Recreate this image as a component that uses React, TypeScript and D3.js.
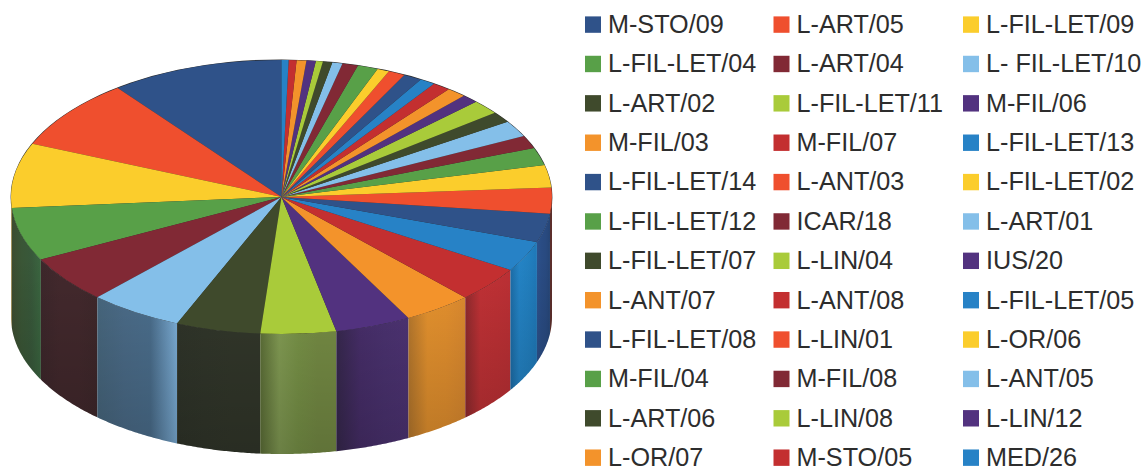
import React from "react";
import * as d3 from "d3";

// Share of each sector, in percent, in legend order.
const sectors = [
  "M-STO/09", "L-ART/05", "L-FIL-LET/09",
  "L-FIL-LET/04", "L-ART/04", "L- FIL-LET/10",
  "L-ART/02", "L-FIL-LET/11", "M-FIL/06",
  "M-FIL/03", "M-FIL/07", "L-FIL-LET/13",
  "L-FIL-LET/14", "L-ANT/03", "L-FIL-LET/02",
  "L-FIL-LET/12", "ICAR/18", "L-ART/01",
  "L-FIL-LET/07", "L-LIN/04", "IUS/20",
  "L-ANT/07", "L-ANT/08", "L-FIL-LET/05",
  "L-FIL-LET/08", "L-LIN/01", "L-OR/06",
  "M-FIL/04", "M-FIL/08", "L-ANT/05",
  "L-ART/06", "L-LIN/08", "L-LIN/12",
  "L-OR/07", "M-STO/05", "MED/26",
];
const shares = [
  10.36, 8.28, 7.64, 6.28, 5.53, 5.61, 5.06, 4.5, 4.53, 4.11, 4.17, 3.61,
  3.39, 3.06, 2.64, 2.08, 1.5, 1.92, 1.28, 1.69, 1.0, 1.17, 1.08, 0.92,
  1.11, 1.0, 0.72, 1.22, 0.94, 0.61, 0.56, 0.42, 0.56, 0.58, 0.47, 0.42,
];
const palette = [
  "#2f5289", "#ef4f2e", "#fbcd2c", "#58a048", "#812935", "#84bfe9",
  "#3f4a2c", "#a9cb3a", "#52327f", "#f3932b", "#c32f30", "#2782c6",
];
// Left-to-right shading of the rim panels, evenly spaced stops per palette colour.
const rimShades = [
  ["#2d528c", "#2a4c84", "#294a80", "#254576"],
  ["#5c2f2c", "#5c2f2c"],
  ["#a08a50", "#a89050", "#a08a50"],
  ["#3c4c30", "#3a5636", "#38583a", "#3a6640"],
  ["#3d272b", "#43292d", "#43292d", "#3f282b"],
  ["#48687f", "#4c6d8a", "#4c708f", "#7fb2dc"],
  ["#30352a", "#32372b", "#33382b", "#33382b"],
  ["#5f7239", "#86a056", "#7b9649", "#788f46", "#788f46"],
  ["#38294f", "#492f6c", "#4c3372", "#4f3476"],
  ["#b97a2e", "#e9952f", "#e8932f", "#df8c30"],
  ["#8f2b2e", "#c23236", "#c03135", "#bd3035"],
  ["#1c6ca6", "#2484c6", "#2280c0", "#1f78b8"],
];

const CX = 281.5;
const CY = 197;
const RX = 270.5;
const RY = 137;
const DEPTH = 120;
const FLOOR_Y = 455;

const pie = d3
  .pie<number>()
  .sort(null)
  .startAngle(0)
  .endAngle(-2 * Math.PI);
const slices = pie(shares);

const topArc = d3.arc<d3.PieArcDatum<number>>().innerRadius(0).outerRadius(RX);

const rimX = (a: number) => CX + RX * Math.sin(a);
const rimY = (a: number) => CY - RY * Math.cos(a);

const rimArea = d3
  .area<number>()
  .x(rimX)
  .y0(rimY)
  .y1((a) => Math.min(rimY(a) + DEPTH, FLOOR_Y));

// Part of a sector's angular span that faces the viewer (lower half of the ellipse).
function frontSpan(a: number, b: number): [number, number] | null {
  const lo = Math.max(b, -1.5 * Math.PI);
  const hi = Math.min(a, -0.5 * Math.PI);
  return hi > lo ? [lo, hi] : null;
}

const COLS = [585, 773.5, 963];
const ROW_TOP = 24.6;
const ROW_STEP = 39.37;

export default function App() {
  const walls = slices
    .map((s, i) => {
      const span = frontSpan(s.startAngle, s.endAngle);
      if (!span) return null;
      const angles = d3.range(0, 41).map((k) => span[0] + ((span[1] - span[0]) * k) / 40);
      const xs = angles.map(rimX);
      return {
        i,
        d: rimArea(angles) as string,
        x0: d3.min(xs) as number,
        x1: d3.max(xs) as number,
        shade: rimShades[i % rimShades.length],
      };
    })
    .filter(Boolean) as { i: number; d: string; x0: number; x1: number; shade: string[] }[];

  return (
    <svg
      width={1147}
      height={469}
      style={{ position: "absolute", left: 0, top: 0, background: "#fff" }}
      fontFamily="'Liberation Sans', Arial, sans-serif"
    >
      <defs>
        {walls.map((w) => (
          <linearGradient
            key={w.i}
            id={`rim-${w.i}`}
            gradientUnits="userSpaceOnUse"
            x1={w.x0}
            x2={w.x1}
            y1={0}
            y2={0}
          >
            {w.shade.map((c, k) => (
              <stop key={k} offset={k / (w.shade.length - 1)} stopColor={c} />
            ))}
          </linearGradient>
        ))}
        <linearGradient id="rim-fade" gradientUnits="userSpaceOnUse" x1={0} x2={0} y1={CY + 60} y2={FLOOR_Y}>
          <stop offset="0" stopColor="#000" stopOpacity={0} />
          <stop offset="1" stopColor="#000" stopOpacity={0.2} />
        </linearGradient>
      </defs>

      <ellipse cx={CX} cy={CY} rx={RX + 0.4} ry={RY + 0.6} fill="#2b2b2b" />
      {walls.map((w) => (
        <g key={w.i}>
          <path d={w.d} fill={`url(#rim-${w.i})`} />
          <path d={w.d} fill="url(#rim-fade)" />
        </g>
      ))}
      <g transform={`translate(${CX},${CY}) scale(1,${RY / RX})`}>
        {slices.map((s, i) => (
          <path key={i} d={topArc(s) as string} fill={palette[i % palette.length]} />
        ))}
      </g>

      {sectors.map((name, i) => {
        const x = COLS[i % 3];
        const y = ROW_TOP + Math.floor(i / 3) * ROW_STEP;
        return (
          <g key={name}>
            <rect x={x} y={y - 8.2} width={16} height={16.4} fill={palette[i % palette.length]} />
            <text x={x + 23} y={y + 8.4} fontSize={25.2} fill="#2d2d2d">
              {name}
            </text>
          </g>
        );
      })}
    </svg>
  );
}
